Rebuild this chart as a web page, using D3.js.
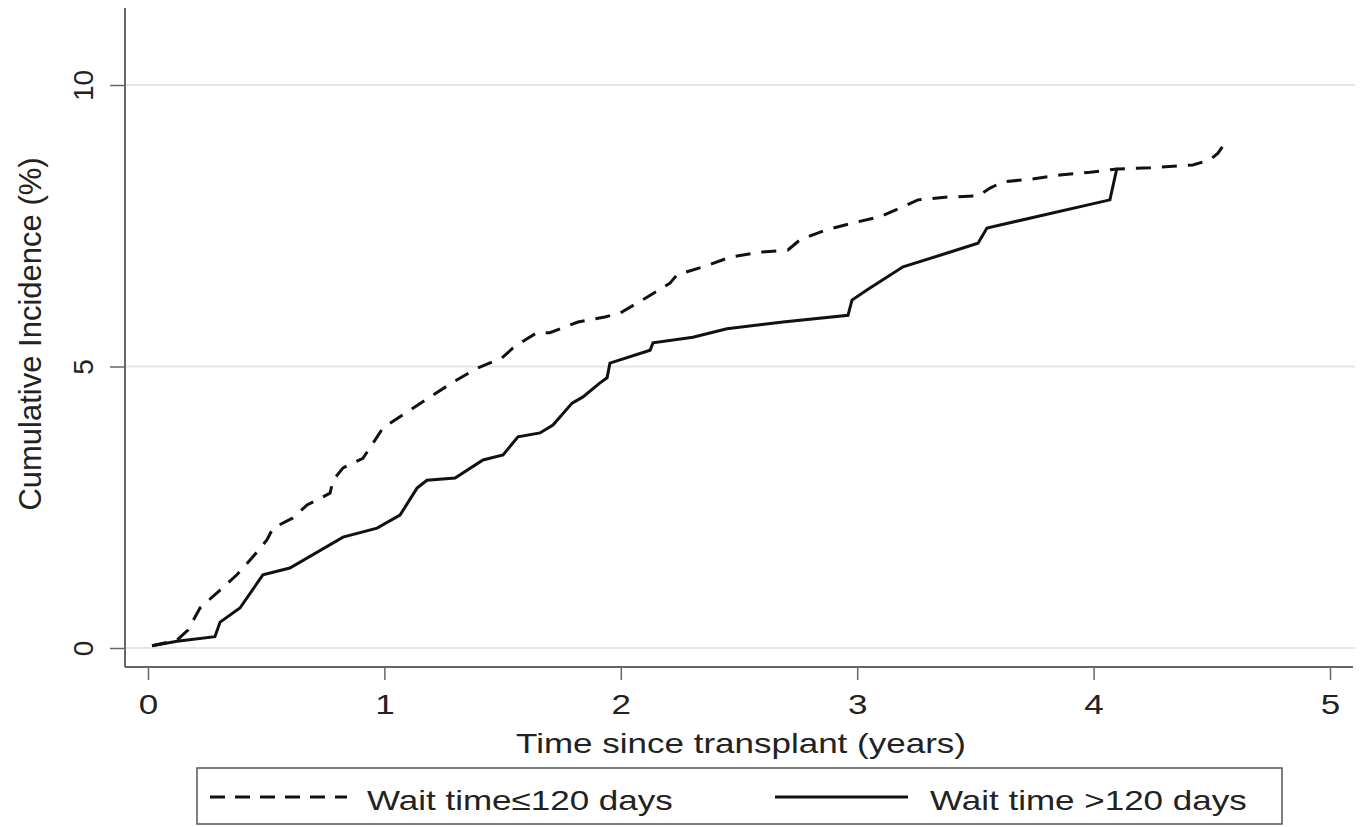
<!DOCTYPE html>
<html lang="en">
<head>
	<meta charset="UTF-8">
	<title>Cumulative incidence</title>
	<style>
		*{margin:0;padding:0;}
		body {background:#fff;}
		svg text {font-family: "Liberation Sans", Arial, sans-serif; fill:#222;}
	</style>
</head>
<body>
	<div id="container"></div>
	<script src="https://cdn.jsdelivr.net/npm/d3@7"></script>
	<script>
		// wait time <= 120 days (dashed)
		var timeShort = [0.017,0.123,0.169,0.22,0.305,0.376,0.444,0.503,0.529,0.613,0.673,0.77,0.783,0.825,0.909,0.952,0.994,1.096,1.193,1.29,1.392,1.497,1.544,1.595,1.645,1.70,1.819,1.933,1.997,2.111,2.208,2.238,2.348,2.462,2.589,2.707,2.758,2.864,2.982,3.096,3.211,3.257,3.384,3.511,3.562,3.617,3.739,3.858,3.985,4.103,4.239,4.42,4.492,4.526,4.556]
		var cumShort = [0.04,0.14,0.32,0.71,1.03,1.30,1.62,1.92,2.13,2.31,2.54,2.75,2.98,3.20,3.37,3.64,3.91,4.19,4.46,4.72,4.97,5.15,5.33,5.47,5.60,5.60,5.79,5.88,5.95,6.23,6.48,6.63,6.77,6.94,7.03,7.07,7.25,7.42,7.55,7.66,7.87,7.96,8.01,8.03,8.17,8.28,8.33,8.40,8.45,8.51,8.53,8.58,8.67,8.79,8.97]
		// wait time > 120 days (solid)
		var timeLong = [0.017,0.123,0.283,0.305,0.389,0.486,0.60,0.825,0.969,1.066,1.138,1.18,1.299,1.417,1.502,1.565,1.658,1.713,1.794,1.84,1.912,1.942,1.954,2.124,2.136,2.305,2.449,2.686,2.961,2.978,3.041,3.194,3.384,3.511,3.549,4.069,4.099]
		var cumLong = [0.04,0.12,0.20,0.46,0.71,1.30,1.42,1.97,2.13,2.36,2.84,2.98,3.02,3.34,3.43,3.75,3.82,3.96,4.35,4.46,4.71,4.80,5.06,5.29,5.42,5.52,5.67,5.79,5.91,6.18,6.36,6.77,7.02,7.19,7.46,7.96,8.53]
		var xTicks = [0,1,2,3,4,5]
		var yTicks = [0,5,10]
		var legendLabels = ['Wait time\u2264120 days', 'Wait time >120 days']

		var width = 1362, height = 827,
			stretch = 1.25,
			axisX = 125, axisY = 667, plotTop = 8, plotRight = 1355

		var svg = d3.select('#container').append('svg').attr('width', width).attr('height', height)

		var x = d3.scaleLinear().domain([0, 5]).range([148, 1330])
		var y = d3.scaleLinear().domain([0, 10]).range([648, 85])

		// gridlines
		svg.append('g').selectAll('line')
			.data(yTicks)
			.enter().append('line')
			.attr('x1', axisX).attr('x2', plotRight)
			.attr('y1', function (d) { return y(d) })
			.attr('y2', function (d) { return y(d) })
			.attr('stroke', '#e6e6e6')
			.attr('stroke-width', 2)

		// x axis
		var xAxis = svg.append('g')
			.attr('transform', 'translate(0,' + axisY + ')')
			.call(d3.axisBottom(x).tickValues(xTicks).tickFormat(d3.format('d')).tickSize(13).tickSizeOuter(0).tickPadding(14))
		xAxis.select('.domain').remove()
		xAxis.append('line').attr('x1', axisX).attr('x2', 1353).attr('stroke', '#666').attr('stroke-width', 2)
		xAxis.selectAll('.tick line').attr('stroke', '#666').attr('stroke-width', 1.5)
		xAxis.selectAll('.tick text')
			.attr('font-size', 28).attr('fill', '#222')
			.attr('transform', 'scale(' + stretch + ',1)')

		// y axis
		var yAxis = svg.append('g')
			.attr('transform', 'translate(' + axisX + ',0)')
			.call(d3.axisLeft(y).tickValues(yTicks).tickFormat(d3.format('d')).tickSize(15).tickSizeOuter(0))
		yAxis.select('.domain').remove()
		yAxis.append('line').attr('y1', plotTop).attr('y2', axisY).attr('stroke', '#666').attr('stroke-width', 2)
		yAxis.selectAll('.tick line').attr('stroke', '#666').attr('stroke-width', 1.5)
		yAxis.selectAll('.tick text')
			.attr('font-size', 28).attr('fill', '#222')
			.attr('text-anchor', 'middle')
			.attr('x', 0).attr('y', -32).attr('dy', 0)
			.attr('transform', 'rotate(-90)')

		// axis titles
		svg.append('text')
			.attr('transform', 'translate(741,753) scale(' + stretch + ',1)')
			.attr('text-anchor', 'middle')
			.attr('font-size', 28)
			.text('Time since transplant (years)')
		svg.append('text')
			.attr('transform', 'translate(41,334) rotate(-90)')
			.attr('text-anchor', 'middle')
			.attr('font-size', 31)
			.text('Cumulative Incidence (%)')

		// curves
		var line = d3.line()
			.x(function (d) { return x(d[0]) })
			.y(function (d) { return y(d[1]) })

		svg.append('path')
			.datum(d3.zip(timeShort, cumShort))
			.attr('d', line)
			.attr('fill', 'none')
			.attr('stroke', '#111')
			.attr('stroke-width', 3)
			.attr('stroke-dasharray', '15,11')

		svg.append('path')
			.datum(d3.zip(timeLong, cumLong))
			.attr('d', line)
			.attr('fill', 'none')
			.attr('stroke', '#111')
			.attr('stroke-width', 3)

		// legend
		var legend = svg.append('g')
		legend.append('rect')
			.attr('x', 197).attr('y', 768).attr('width', 1085).attr('height', 56)
			.attr('fill', '#fff').attr('stroke', '#555').attr('stroke-width', 1.5)
		legend.append('line')
			.attr('x1', 210).attr('x2', 347).attr('y1', 797).attr('y2', 797)
			.attr('stroke', '#111').attr('stroke-width', 3).attr('stroke-dasharray', '15,10')
		legend.append('line')
			.attr('x1', 775).attr('x2', 908).attr('y1', 797).attr('y2', 797)
			.attr('stroke', '#111').attr('stroke-width', 3)
		legend.selectAll('text.lab')
			.data(legendLabels)
			.enter().append('text')
			.attr('class', 'lab')
			.attr('transform', function (d, i) { return 'translate(' + (i ? 930 : 367) + ',810) scale(' + stretch + ',1)' })
			.attr('font-size', 28)
			.text(function (d) { return d })
	</script>
</body>
</html>
